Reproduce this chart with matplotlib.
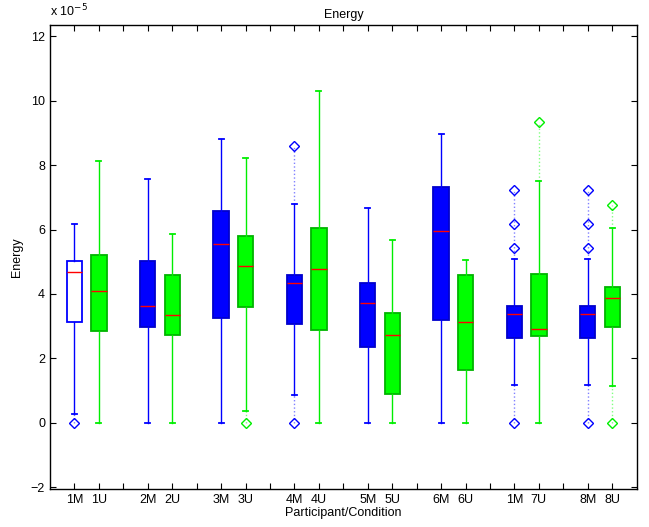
import numpy as np
import matplotlib
matplotlib.use('Agg')
import matplotlib.pyplot as plt

plt.rcParams['font.family'] = ['Liberation Sans', 'DejaVu Sans']

# box positions (gaps between participant pairs)
positions = [1, 2, 4, 5, 7, 8, 10, 11, 13, 14, 16, 17, 19, 20, 22, 23]
names = ['1M', '1U', '2M', '2U', '3M', '3U', '4M', '4U',
         '5M', '5U', '6M', '6U', '1M', '7U', '8M', '8U']

# values in units of 1e-5
whislo = [0.28, 0, 0, 0, 0, 0.36, 0.86, 0, 0, 0, 0, 0, 1.19, 0, 1.19, 1.15]
q1     = [3.12, 2.84, 2.98, 2.72, 3.26, 3.61, 3.07, 2.88, 2.35, 0.90, 3.20, 1.65, 2.65, 2.69, 2.65, 2.97]
med    = [4.67, 4.08, 3.64, 3.34, 5.54, 4.86, 4.33, 4.79, 3.73, 2.73, 5.94, 3.14, 3.37, 2.91, 3.37, 3.89]
q3     = [5.01, 5.20, 5.01, 4.59, 6.57, 5.79, 4.58, 6.05, 4.34, 3.40, 7.32, 4.59, 3.62, 4.62, 3.62, 4.21]
whishi = [6.16, 8.12, 7.56, 5.86, 8.81, 8.23, 6.78, 10.30, 6.67, 5.68, 8.97, 5.04, 5.07, 7.49, 5.07, 6.04]
fliers = [[0.0], [], [], [], [], [0.0], [0.0, 8.58], [],
          [], [], [], [], [0.0, 5.42, 6.16, 7.22], [9.33], [0.0, 5.42, 6.16, 7.22], [0.0, 6.76]]

stats = []
for i in range(len(positions)):
    stats.append(dict(whislo=whislo[i], q1=q1[i], med=med[i], q3=q3[i],
                      whishi=whishi[i], fliers=fliers[i]))

fig = plt.figure(figsize=(6.49, 5.27), dpi=100)
ax = fig.add_axes([0.077, 0.072, 0.904, 0.881])

bp = ax.bxp(stats, positions=positions, widths=0.63, capwidths=0.2,
            patch_artist=True, showfliers=True, manage_ticks=False)

for i, name in enumerate(names):
    if name.endswith('M'):
        col, edge, fill = 'blue', '#0000cc', 'blue'
    else:
        col, edge, fill = '#00ee00', '#00b400', '#00ff00'
    if i == 0:
        fill, edge = 'white', 'blue'
    bp['boxes'][i].set_facecolor(fill)
    bp['boxes'][i].set_edgecolor(edge)
    bp['boxes'][i].set_linewidth(1.3)
    bp['medians'][i].set_color('red')
    bp['medians'][i].set_linewidth(1.0)
    for w in bp['whiskers'][2 * i:2 * i + 2]:
        w.set_color(col)
        w.set_linewidth(1.0)
    for c in bp['caps'][2 * i:2 * i + 2]:
        c.set_color(col)
        c.set_linewidth(1.3)
    f = bp['fliers'][i]
    f.set_marker('D')
    f.set_markersize(5.5)
    f.set_markerfacecolor('none')
    f.set_markeredgecolor(col)
    f.set_markeredgewidth(1.0)
    # dotted lines from whisker ends out to the outliers
    up = [v for v in fliers[i] if v > whishi[i]]
    dn = [v for v in fliers[i] if v < whislo[i]]
    dot = '#8080ff' if name.endswith('M') else '#80ff80'
    if up:
        ax.plot([positions[i], positions[i]], [whishi[i], max(up)], ':',
                color=dot, lw=1.0, zorder=1)
    if dn:
        ax.plot([positions[i], positions[i]], [min(dn), whislo[i]], ':',
                color=dot, lw=1.0, zorder=1)

ticklabels = []
for p in range(1, 24):
    ticklabels.append(names[positions.index(p)] if p in positions else '')
ax.set_xticks(range(1, 24))
ax.set_xticklabels(ticklabels)
ax.set_yticks(np.arange(-2, 13, 2))
ax.set_xlim(0, 24)
ax.set_ylim(-2.05, 12.35)

ax.tick_params(direction='in', top=True, right=True, length=4, width=0.8,
               labelsize=9)
ax.tick_params(axis='y', pad=3.5)
ax.tick_params(axis='x', pad=3.5)
for s in ax.spines.values():
    s.set_linewidth(1.0)

ax.set_title('Energy', fontsize=9, pad=5)
ax.set_xlabel('Participant/Condition', fontsize=9, labelpad=1)
ax.set_ylabel('Energy', fontsize=9, labelpad=6)
ax.text(0.0, 1.012, r'x 10$^{-5}$', transform=ax.transAxes, fontsize=9,
        ha='left', va='bottom')

plt.savefig('out.png', dpi=100)
